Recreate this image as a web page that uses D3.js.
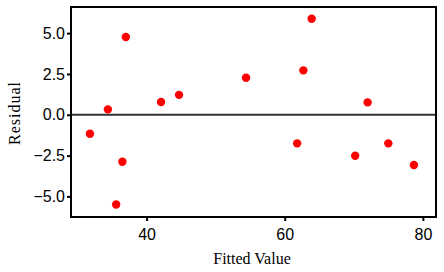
<!DOCTYPE html>
<html>
<head>
<meta charset="utf-8">
<script src="https://cdn.jsdelivr.net/npm/d3@7"></script>
<style>
  body { margin: 0; background: #fff; }
  svg { display: block; }
</style>
</head>
<body>
<div id="chart"></div>
<script>
// Data
const fitted   = [31.8, 34.4, 37.0, 36.5, 35.6, 42.1, 44.7, 54.4, 61.8, 62.7, 63.9, 70.2, 72.0, 75.0, 78.7];
const residual = [-1.16, 0.33, 4.76, -2.88, -5.49, 0.78, 1.22, 2.27, -1.75, 2.72, 5.88, -2.51, 0.76, -1.75, -3.08];
const xTicks = [40, 60, 80];
const yTicks = [-5, -2.5, 0, 2.5, 5];

const W = 444, H = 272;
const margin = { top: 7, right: 8, bottom: 55, left: 71 };
const width = W - margin.left - margin.right;
const height = H - margin.top - margin.bottom;

const svg = d3.select("#chart")
    .append("svg")
    .attr("width", W)
    .attr("height", H);

const g = svg.append("g")
    .attr("transform", `translate(${margin.left},${margin.top})`);

// Scales
const x = d3.scaleLinear().domain([29.06, 81.9]).range([0, width]);
const y = d3.scaleLinear().domain([-6.26, 6.6]).range([height, 0]);

// Axes
const xAxis = g.append("g")
    .attr("transform", `translate(0,${height})`)
    .call(d3.axisBottom(x).tickValues(xTicks).tickSize(4).tickSizeOuter(0).tickPadding(8));
const yAxis = g.append("g")
    .call(d3.axisLeft(y).tickValues(yTicks).tickFormat(d3.format(".1f")).tickSize(4).tickSizeOuter(0).tickPadding(2));

[xAxis, yAxis].forEach(a => {
    a.select(".domain").remove();
    a.selectAll("line").attr("stroke", "#000").attr("stroke-width", 2);
    a.selectAll("text")
        .attr("fill", "#000")
        .style("font-family", "'Liberation Sans', Arial, sans-serif")
        .style("font-size", "16px");
});

// Zero reference line
g.append("line")
    .attr("x1", 0).attr("x2", width)
    .attr("y1", y(0)).attr("y2", y(0))
    .attr("stroke", "#333")
    .attr("stroke-width", 2);

// Frame
g.append("rect")
    .attr("x", 0).attr("y", 0)
    .attr("width", width).attr("height", height)
    .attr("fill", "none")
    .attr("stroke", "#000")
    .attr("stroke-width", 2);

// Points
g.selectAll("circle.pt")
    .data(fitted.map((f, i) => ({ f, r: residual[i] })))
    .join("circle")
    .attr("class", "pt")
    .attr("cx", d => x(d.f))
    .attr("cy", d => y(d.r))
    .attr("r", 4.2)
    .attr("fill", "#ff0000");

// Axis titles
svg.append("text")
    .attr("x", 252).attr("y", 264)
    .attr("text-anchor", "middle")
    .style("font-family", "'Liberation Serif', 'Times New Roman', serif")
    .style("font-size", "16px")
    .text("Fitted Value");

svg.append("text")
    .attr("transform", "translate(20,113) rotate(-90)")
    .attr("text-anchor", "middle")
    .style("font-family", "'Liberation Serif', 'Times New Roman', serif")
    .style("font-size", "16px")
    .style("letter-spacing", "1px")
    .text("Residual");
</script>
</body>
</html>
